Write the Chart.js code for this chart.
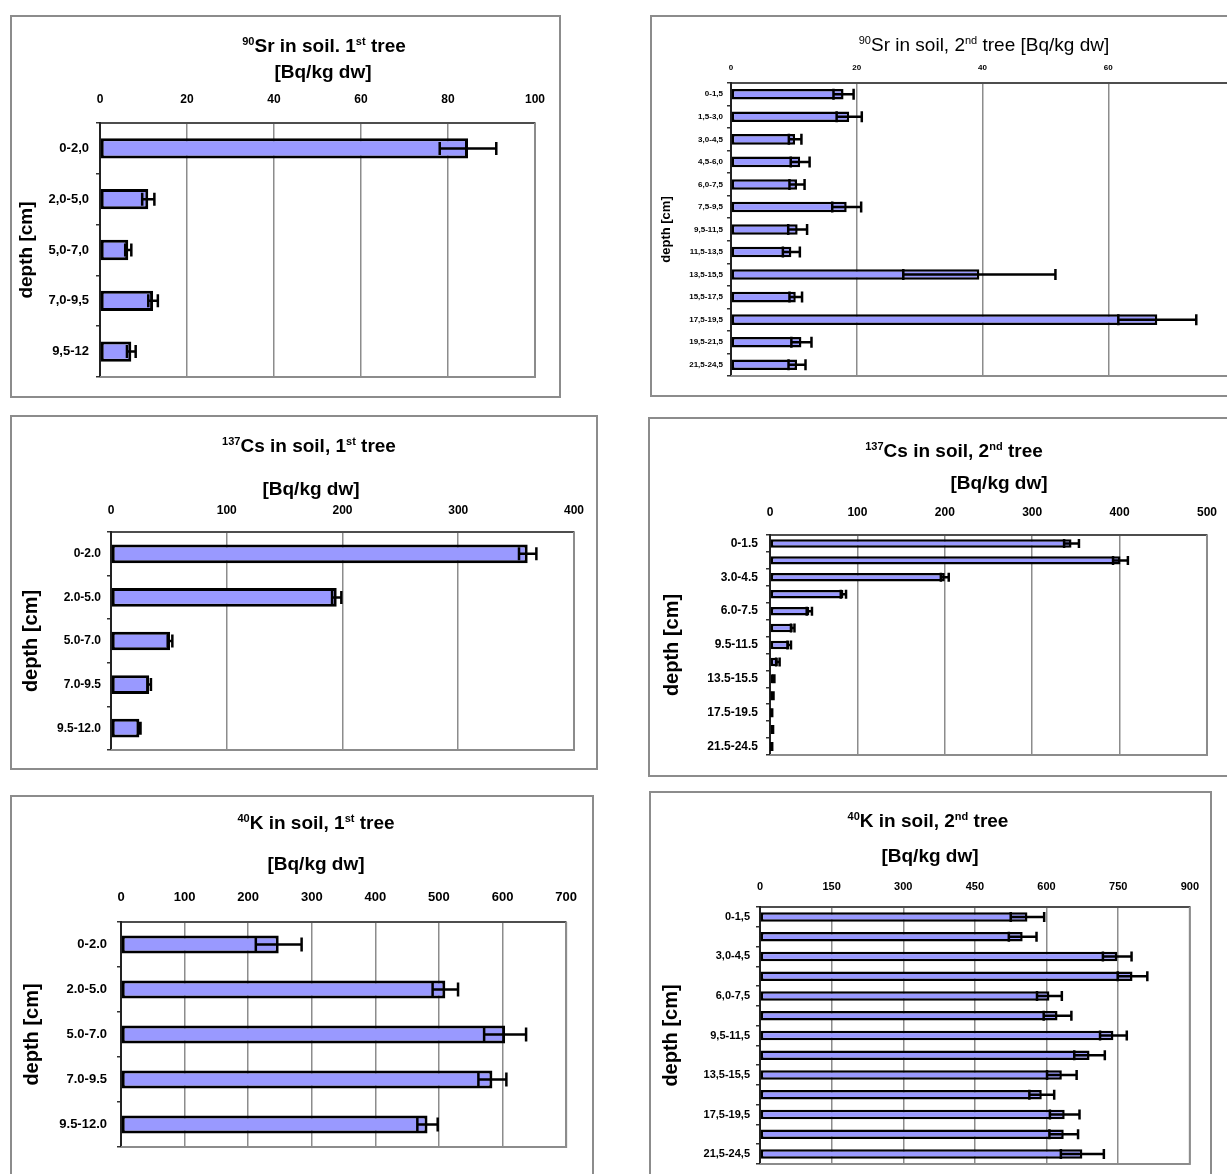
<!DOCTYPE html>
<html lang="en">

<head>
    <meta charset="UTF-8">
    <title>Radionuclides in soil by depth</title>
    <script src="https://cdn.jsdelivr.net/npm/chart.js"></script>
    <style>
        body {
            margin: 0;
            width: 1227px;
            height: 1174px;
            overflow: hidden;
            position: relative;
            background: #fff;
            font-family: "Liberation Sans", Arial, sans-serif;
        }

        .panel {
            position: absolute;
            outline: 2px solid #8c8c8c;
            outline-offset: -2px;
        }

        .panel canvas {
            position: absolute;
            left: 0;
            top: 0;
        }

        .ttl {
            position: absolute;
            transform: translate(-50%, -50%);
            font: bold 19px "Liberation Sans", Arial, sans-serif;
            line-height: 1;
            white-space: nowrap;
            color: #000;
        }

        .ttl.thin {
            font-weight: normal;
        }

        .ttl sup {
            font-size: 11px;
            vertical-align: baseline;
            position: relative;
            top: -7px;
        }
    </style>
</head>

<body>

    <div class="panel" style="left:10px;top:15px;width:551px;height:383px"><canvas id="sr1" width="551" height="383"></canvas></div>
    <div class="panel" style="left:650px;top:15px;width:600px;height:382px"><canvas id="sr2" width="600" height="382"></canvas></div>
    <div class="panel" style="left:10px;top:415px;width:588px;height:355px"><canvas id="cs1" width="588" height="355"></canvas></div>
    <div class="panel" style="left:648px;top:417px;width:584px;height:360px"><canvas id="cs2" width="584" height="360"></canvas></div>
    <div class="panel" style="left:10px;top:795px;width:584px;height:395px"><canvas id="k1" width="584" height="395"></canvas></div>
    <div class="panel" style="left:649px;top:791px;width:563px;height:395px"><canvas id="k2" width="563" height="395"></canvas></div>

    <div class="ttl" style="left:324px;top:45px"><sup>90</sup>Sr in soil. 1<sup>st</sup> tree</div>
    <div class="ttl" style="left:323px;top:71px">[Bq/kg dw]</div>
    <div class="ttl thin" style="left:984px;top:44px"><sup>90</sup>Sr in soil, 2<sup>nd</sup> tree [Bq/kg dw]</div>
    <div class="ttl" style="left:309px;top:445px"><sup>137</sup>Cs in soil, 1<sup>st</sup> tree</div>
    <div class="ttl" style="left:311px;top:488px">[Bq/kg dw]</div>
    <div class="ttl" style="left:954px;top:450px"><sup>137</sup>Cs in soil, 2<sup>nd</sup> tree</div>
    <div class="ttl" style="left:999px;top:482px">[Bq/kg dw]</div>
    <div class="ttl" style="left:316px;top:822px"><sup>40</sup>K in soil, 1<sup>st</sup> tree</div>
    <div class="ttl" style="left:316px;top:863px">[Bq/kg dw]</div>
    <div class="ttl" style="left:928px;top:820px"><sup>40</sup>K in soil, 2<sup>nd</sup> tree</div>
    <div class="ttl" style="left:930px;top:855px">[Bq/kg dw]</div>

    <script>
        // depth layers
        const depthsSr1 = ['0-2,0', '2,0-5,0', '5,0-7,0', '7,0-9,5', '9,5-12'];
        const depthsTree1 = ['0-2.0', '2.0-5.0', '5.0-7.0', '7.0-9.5', '9.5-12.0'];
        const depthsTree2 = ['0-1,5', '1,5-3,0', '3,0-4,5', '4,5-6,0', '6,0-7,5', '7,5-9,5', '9,5-11,5',
            '11,5-13,5', '13,5-15,5', '15,5-17,5', '17,5-19,5', '19,5-21,5', '21,5-24,5'];
        const depthsCs2 = ['0-1.5', '1.5-3.0', '3.0-4.5', '4.5-6.0', '6.0-7.5', '7.5-9.5', '9.5-11.5',
            '11.5-13.5', '13.5-15.5', '15.5-17.5', '17.5-19.5', '19.5-21.5', '21.5-24.5'];

        // activity [Bq/kg dw] and error bar half widths
        const sr1Values = [84.6, 11.1, 6.5, 12.2, 7.2];
        const sr1Errors = [6.5, 1.4, 0.7, 1.1, 1.0];
        const sr2Values = [17.9, 18.8, 10.2, 11.0, 10.5, 18.4, 10.6, 9.6, 39.5, 10.3, 67.8, 11.2, 10.5];
        const sr2Errors = [1.6, 2.0, 1.0, 1.5, 1.2, 2.3, 1.5, 1.35, 12.1, 1.0, 6.2, 1.6, 1.35];
        const cs1Values = [360, 195, 51, 33, 24.5];
        const cs1Errors = [7.5, 4, 2, 1.5, 1];
        const cs2Values = [345, 401, 200, 84, 45, 26, 22, 9, 4, 3, 2, 3, 2];
        const cs2Errors = [8.5, 8.5, 4.5, 3, 3, 2, 2, 2, 1, 1, 0.5, 0.5, 0.5];
        const k1Values = [248, 510, 604, 584, 482];
        const k1Errors = [36, 20, 33, 22, 16];
        const k2Values = [560, 550, 748, 780, 606, 623, 740, 690, 632, 590, 638, 636, 675];
        const k2Errors = [35, 29, 30, 31, 26, 29, 28, 32, 31, 26, 31, 30, 45];

        // x axis ranges [max, step]
        const sr1Axis = [100, 20];
        const sr2Axis = [80, 20];
        const cs1Axis = [400, 100];
        const cs2Axis = [500, 100];
        const k1Axis = [700, 100];
        const k2Axis = [900, 150];

        const FONT = '"Liberation Sans", Arial, sans-serif';
        Chart.defaults.font.family = FONT;

        // symmetric error bars drawn over the bars
        const errorBars = {
            id: 'errorBars',
            afterDatasetsDraw(chart, args, opts) {
                const ds = chart.data.datasets[0];
                const x = chart.scales.x;
                const ctx = chart.ctx;
                ctx.save();
                ctx.strokeStyle = '#000';
                ctx.lineWidth = opts.width;
                chart.getDatasetMeta(0).data.forEach((bar, i) => {
                    const lo = x.getPixelForValue(ds.data[i] - ds.errors[i]);
                    const hi = x.getPixelForValue(ds.data[i] + ds.errors[i]);
                    const y = bar.y;
                    ctx.beginPath();
                    ctx.moveTo(lo, y);
                    ctx.lineTo(hi, y);
                    ctx.moveTo(lo, y - opts.cap);
                    ctx.lineTo(lo, y + opts.cap);
                    ctx.moveTo(hi, y - opts.cap);
                    ctx.lineTo(hi, y + opts.cap);
                    ctx.stroke();
                });
                ctx.restore();
            }
        };

        // grey right and bottom edges of the plot area
        const plotFrame = {
            id: 'plotFrame',
            beforeDatasetsDraw(chart) {
                const { ctx, chartArea: a } = chart;
                ctx.save();
                ctx.strokeStyle = '#8c8c8c';
                ctx.lineWidth = 2;
                ctx.beginPath();
                ctx.moveTo(a.right, a.top);
                ctx.lineTo(a.right, a.bottom);
                ctx.lineTo(a.left, a.bottom);
                ctx.stroke();
                ctx.restore();
            }
        };

        function makeChart(id, o) {
            const canvas = document.getElementById(id);
            const W = canvas.width, H = canvas.height;
            const [pl, pt, pr, pb] = o.plot;
            new Chart(canvas, {
                type: 'bar',
                data: {
                    labels: o.labels,
                    datasets: [{
                        data: o.values,
                        errors: o.errors,
                        backgroundColor: '#9999ff',
                        borderColor: '#000',
                        borderWidth: o.border,
                        borderSkipped: false,
                        barPercentage: o.barPct,
                        categoryPercentage: 1
                    }]
                },
                options: {
                    indexAxis: 'y',
                    responsive: false,
                    animation: false,
                    layout: { padding: { left: 0, top: 0, right: W - pr, bottom: H - pb } },
                    plugins: {
                        legend: { display: false },
                        tooltip: { enabled: false },
                        errorBars: { cap: o.cap, width: 2.5 }
                    },
                    scales: {
                        x: {
                            position: 'top',
                            min: 0,
                            max: o.axis[0],
                            ticks: {
                                stepSize: o.axis[1],
                                color: '#000',
                                padding: o.xPad,
                                font: { size: o.xFont, weight: 'bold' }
                            },
                            grid: { color: '#8c8c8c', lineWidth: 1.5, drawTicks: false },
                            border: { color: '#4d4d4d', width: 2 },
                            afterFit: s => { s.height = pt; }
                        },
                        y: {
                            offset: true,
                            ticks: {
                                autoSkip: false,
                                color: '#000',
                                padding: o.yPad,
                                font: { size: o.yFont, weight: 'bold' },
                                callback: (v, i) => (i % o.every === 0 ? o.labels[i] : '')
                            },
                            grid: {
                                offset: true,
                                drawOnChartArea: false,
                                tickLength: 4,
                                color: '#333',
                                lineWidth: 1.5
                            },
                            border: { color: '#222', width: 2 },
                            title: {
                                display: true,
                                text: 'depth [cm]',
                                color: '#000',
                                font: { size: o.tFont, weight: 'bold' },
                                padding: { top: o.tPad, bottom: 0 }
                            },
                            afterFit: s => { s.width = pl; }
                        }
                    }
                },
                plugins: [plotFrame, errorBars]
            });
        }

        makeChart('sr1', {
            labels: depthsSr1, values: sr1Values, errors: sr1Errors, axis: sr1Axis,
            plot: [90, 108, 533, 362], barPct: 0.4, cap: 6.5, border: 3,
            xFont: 12, xPad: 16, yFont: 13, yPad: 7, tFont: 19, tPad: 5.6, every: 1
        });
        makeChart('sr2', {
            labels: depthsTree2, values: sr2Values, errors: sr2Errors, axis: sr2Axis,
            plot: [81, 68, 584, 361], barPct: 0.47, cap: 5.5, border: 2.5,
            xFont: 8, xPad: 10, yFont: 8, yPad: 4, tFont: 13, tPad: 9, every: 1
        });
        makeChart('cs1', {
            labels: depthsTree1, values: cs1Values, errors: cs1Errors, axis: cs1Axis,
            plot: [101, 117, 571, 335], barPct: 0.43, cap: 6.5, border: 3,
            xFont: 12, xPad: 14, yFont: 12, yPad: 6, tFont: 20, tPad: 9, every: 1
        });
        makeChart('cs2', {
            labels: depthsCs2, values: cs2Values, errors: cs2Errors, axis: cs2Axis,
            plot: [122, 118, 572, 338], barPct: 0.5, cap: 4.5, border: 2.5,
            xFont: 12, xPad: 15, yFont: 12, yPad: 8, tFont: 20, tPad: 12, every: 2
        });
        makeChart('k1', {
            labels: depthsTree1, values: k1Values, errors: k1Errors, axis: k1Axis,
            plot: [111, 127, 561, 352], barPct: 0.4, cap: 7, border: 3,
            xFont: 13, xPad: 17, yFont: 13, yPad: 10, tFont: 20, tPad: 10.6, every: 1
        });
        makeChart('k2', {
            labels: depthsTree2, values: k2Values, errors: k2Errors, axis: k2Axis,
            plot: [111, 116, 551, 373], barPct: 0.48, cap: 5, border: 2.5,
            xFont: 11, xPad: 13, yFont: 11, yPad: 6, tFont: 20, tPad: 10, every: 2
        });
    </script>

</body>

</html>
